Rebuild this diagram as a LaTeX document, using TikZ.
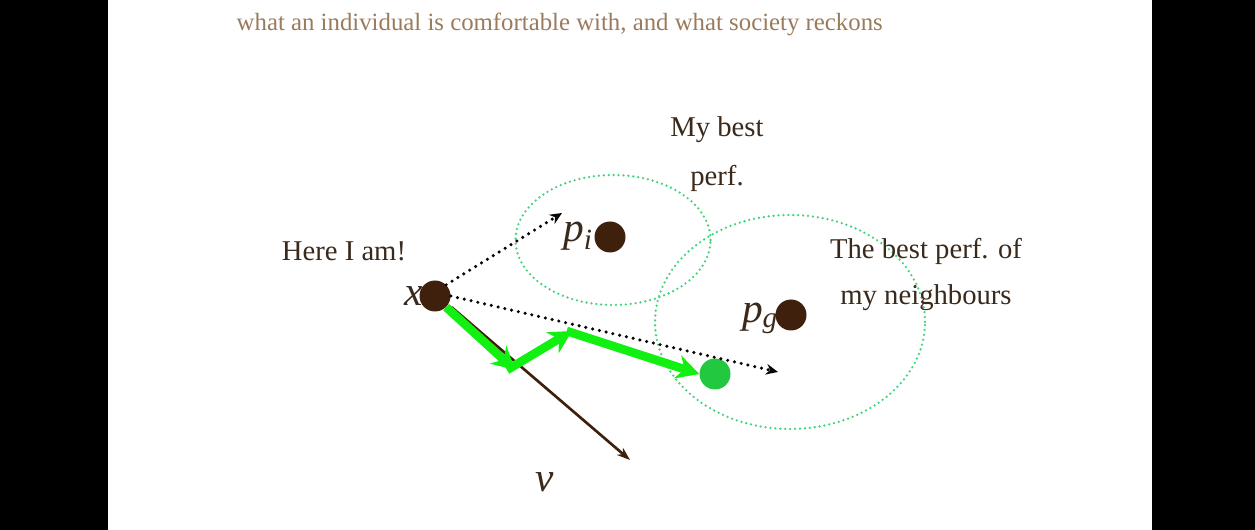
\documentclass[tikz,border=0pt]{standalone}
\usepackage{fontspec}
\setmainfont{Liberation Serif}
\usetikzlibrary{arrows.meta, shapes.geometric}
\definecolor{brn}{HTML}{3F200C}
\definecolor{txtbrn}{HTML}{3A2A1C}
\definecolor{topbrn}{HTML}{9A7B5C}
\definecolor{ringgreen}{HTML}{3ED47A}
\definecolor{dotgreen}{HTML}{22C840}
\definecolor{pathgreen}{HTML}{11F011}
\tikzset{
  pt/.style = {circle, fill=brn, inner sep=0pt, minimum size=31pt*0.75},
  ring/.style = {ellipse, draw=ringgreen, line width=1.9pt, line cap=round,
    dash pattern=on 0pt off 3.7pt, inner sep=0pt},
  lbl/.style = {text=txtbrn, font=\fontsize{21.5}{25}\selectfont, inner sep=0pt},
  sym/.style = {text=txtbrn, font=\fontsize{31}{36}\selectfont\itshape, inner sep=0pt},
  dotarr/.style = {draw=black!85!brn, line width=2.6pt, line cap=round,
    dash pattern=on 0pt off 5.2pt, -{Stealth[length=9pt, width=8pt, line cap=butt]}},
  vel/.style = {draw=brn, line width=2pt, -{Stealth[length=10pt, width=7pt]}},
  gstep/.style = {draw=pathgreen, line width=6.5pt, -{Stealth[length=17pt, width=18pt]}}
}

\begin{document}
\begin{tikzpicture}[x=0.75pt, y=-0.75pt]
  \useasboundingbox (0,0) rectangle (1255,530);
  \fill [white] (0,0) rectangle (1255,530);
  \fill [black] (0,0) rectangle (108,530);
  \fill [black] (1152,0) rectangle (1255,530);
  \node [text=topbrn, font=\fontsize{18.6}{22}\selectfont, anchor=west] (head) at (232,24)
    {what an individual is comfortable with, and what society reckons};
  % swarm regions
  \node [ring, minimum width=195*0.75pt, minimum height=130*0.75pt] (own) at (613,240) {};
  \node [ring, minimum width=270*0.75pt, minimum height=214*0.75pt] (nbr) at (790,322) {};
  % particles
  \node [pt] (x) at (435,296) {};
  \node [pt] (pi) at (610,237) {};
  \node [pt] (pg) at (791,315) {};
  \node [pt, fill=dotgreen] (xn) at (715,374) {};
  \node [sym, anchor=east] (xl) at ([xshift=3pt]x.west) {x};
  \node [sym] (pil) at (578,236) {p\textsubscript{\fontsize{22}{24}\selectfont i}};
  \node [sym] (pgl) at (760,318) {p\textsubscript{\fontsize{22}{24}\selectfont g}};
  \node [sym] (vl) at (545,482) {v};
  % texts
  \node [lbl] (here) at (344,251) {Here I am!};
  \node [lbl] (mb1) at (717,130) {My best};
  \node [lbl] (mb2) at (717,178) {perf.};
  \node [lbl] (nb1) at (926,251) {The best perf. of};
  \node [lbl] (nb2) at (926,298) {my neighbours};
  % moves
  \coordinate (vend) at (630,460);
  \coordinate (toi) at (562,213);
  \coordinate (tog) at (778,372);
  \coordinate (g1) at (515,370);
  \coordinate (g2) at (572,331);
  \draw [vel] ([xshift=4pt]x.south east) -- (vend);
  \draw [dotarr] (x.north east) -- (toi);
  \draw [dotarr] (x.east) -- (tog);
  \draw [gstep] (x.south east) -- (g1);
  \draw [gstep] ([xshift=-6pt]g1) -- (g2);
  \draw [gstep] ([xshift=-4pt]g2) -- (xn.west);
\end{tikzpicture}
\end{document}
